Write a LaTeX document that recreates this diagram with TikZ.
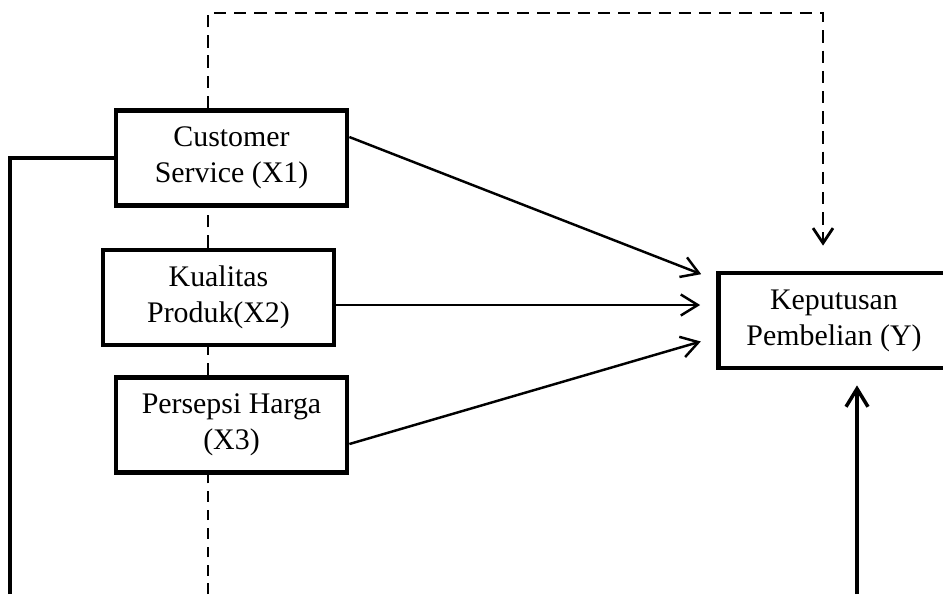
\documentclass[tikz,border=0pt]{standalone}
\usepackage{fontspec}
\setmainfont{Liberation Serif}
\usetikzlibrary{arrows.meta}
\usetikzlibrary{positioning}
\usetikzlibrary{calc}
\tikzstyle{kotak}=[
        rectangle,
        draw,
        line width=2.7pt,
        fill=white,
        minimum width=4.62cm,
        minimum height=1.9cm,
        align=center,
        font=\fontsize{17}{20.5}\selectfont
]
\tikzstyle{panah}=[-{Straight Barb[length=0.34cm,width=0.42cm]},line width=1.4pt,shorten >=0.32cm]
\tikzstyle{garis}=[line width=2.3pt]
\tikzstyle{putus}=[line width=1.6pt,dash pattern=on 7pt off 4.5pt]
\tikzstyle{putustipis}=[line width=0.8pt,dash pattern=on 6pt off 4.5pt]

\begin{document}
\begin{tikzpicture}
\useasboundingbox (0,0) rectangle (18.86,-11.88);
\node[kotak] (x1) at (4.63,-3.16) {Customer\\Service (X1)};
\node[kotak] (x2) at (4.37,-5.95) {Kualitas\\Produk(X2)};
\node[kotak] (x3) at (4.63,-8.5) {Persepsi Harga\\(X3)};
\node[kotak] (y) at (16.68,-6.41) {Keputusan\\Pembelian (Y)};
\coordinate (d0) at (4.16,-11.88);
\coordinate (d1) at (4.16,-0.26);
\coordinate (d2) at (16.46,-0.26);
\coordinate (kiri) at (0.2,-11.88);
\coordinate (kanan) at (17.14,-11.88);
\coordinate (y1) at ($(y.west)+(0,0.81)$);
\coordinate (y2) at ($(y.west)+(0,0.31)$);
\coordinate (y3) at ($(y.west)+(0,-0.33)$);
%garis putus-putus
\draw[putustipis] (d0) -- (d0 |- x3.south);
\draw[putus] (d0 |- x3.north) -- (d0 |- x2.south);
\draw[putus] (d0 |- x2.north) -- (d0 |- x1.south);
\draw[putus,-{Straight Barb[length=0.3cm,width=0.4cm]},shorten >=0.5cm] (d0 |- x1.north) -- (d1) -- (d2) -- (d2 |- y.north);
%panah
\draw[panah] ($(x1.east)+(0,0.42)$) -- (y1);
\draw[panah] (x2.east |- y2) -- (y2);
\draw[panah] ($(x3.east)+(0,-0.38)$) -- (y3);
\draw[garis] (kiri) |- (x1.west);
\draw[line width=2pt,-{Straight Barb[length=0.36cm,width=0.44cm]},shorten >=0.3cm] (kanan) -- (kanan |- y.south);
\end{tikzpicture}
\end{document}
